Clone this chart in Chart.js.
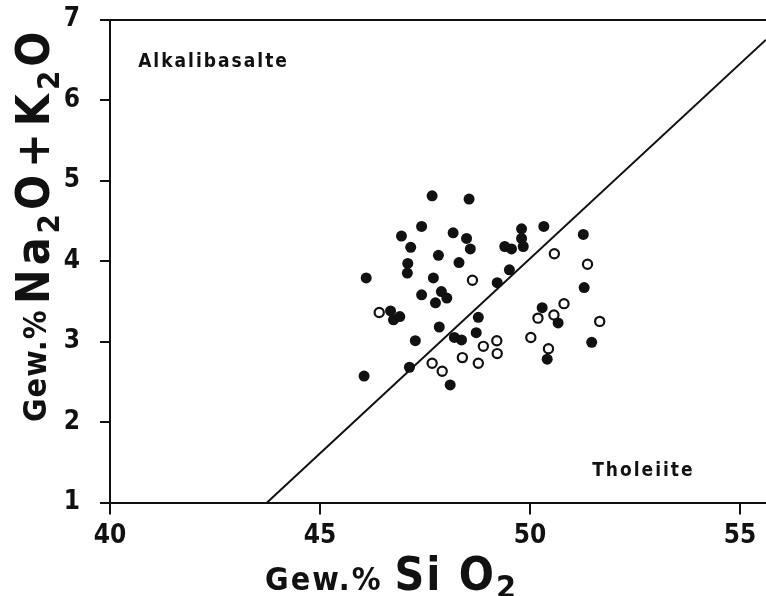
<!DOCTYPE html>
<html lang="de">
<head>
<meta charset="UTF-8">
<title>Na2O+K2O gegen SiO2</title>
<script src="https://cdn.jsdelivr.net/npm/chart.js@4.4.1/dist/chart.umd.min.js"></script>
<style>
  html, body { margin: 0; padding: 0; background: #fff; }
  #wrap { width: 766px; height: 596px; position: relative; }
</style>
</head>
<body>
<div id="wrap"><canvas id="tas"></canvas></div>
<script>
// Achsen
const xTicks = [40, 45, 50, 55];
const yTicks = [1, 2, 3, 4, 5, 6, 7];
const xRange = [40, 55.62];
const yRange = [1, 7];

// gefuellte Kreise (Gew.% SiO2 / Gew.% Na2O+K2O)
const filledSiO2 = [47.67, 48.55, 47.42, 46.94, 48.17, 48.49, 47.16, 48.58, 47.82, 48.31,
                    47.09, 47.08, 46.10, 47.70, 49.80, 49.80, 50.33, 49.40, 49.56, 49.84,
                    51.27, 49.51, 49.22, 51.29, 47.42, 47.89, 48.02, 47.75, 46.68, 46.90,
                    46.75, 47.84, 48.77, 48.72, 47.27, 48.20, 48.37, 47.13, 46.05, 48.10,
                    50.29, 50.67, 50.41, 51.47];
const filledAlk  = [4.81, 4.77, 4.43, 4.31, 4.35, 4.28, 4.17, 4.15, 4.07, 3.98,
                    3.97, 3.85, 3.79, 3.79, 4.40, 4.28, 4.43, 4.18, 4.15, 4.18,
                    4.33, 3.89, 3.73, 3.67, 3.58, 3.62, 3.54, 3.48, 3.38, 3.31,
                    3.27, 3.18, 3.30, 3.11, 3.01, 3.05, 3.02, 2.68, 2.57, 2.46,
                    3.42, 3.23, 2.78, 2.99];

// offene Kreise
const openSiO2 = [48.63, 46.41, 48.89, 49.21, 49.22, 48.39, 48.77, 47.67, 47.91,
                  50.58, 51.37, 50.81, 50.19, 50.57, 50.02, 50.44, 51.66];
const openAlk  = [3.76, 3.36, 2.94, 3.01, 2.85, 2.80, 2.73, 2.73, 2.63,
                  4.09, 3.96, 3.47, 3.29, 3.33, 3.05, 2.91, 3.25];

// Trennlinie Alkalibasalt / Tholeiit
const lineSiO2 = [43.74, 55.62];
const lineAlk  = [1, 6.75];

const INK = '#111';
const FONT = "'DejaVu Sans Condensed', 'Liberation Sans', sans-serif";

const pts = (xs, ys) => xs.map((v, i) => ({ x: v, y: ys[i] }));

// Text mit Tiefstellungen, optional gedreht
function richText(ctx, x, y, angle, parts, spacing) {
  ctx.save();
  ctx.translate(x, y);
  ctx.rotate(angle);
  ctx.fillStyle = INK;
  ctx.textBaseline = 'alphabetic';
  ctx.textAlign = 'left';
  ctx.letterSpacing = spacing + 'px';
  let cx = 0;
  for (const p of parts) {
    ctx.font = 'bold ' + p.size + 'px ' + FONT;
    ctx.fillText(p.t, cx, p.dy || 0);
    cx += ctx.measureText(p.t).width + (p.gap || 0);
  }
  ctx.restore();
}

const labels = {
  id: 'labels',
  afterDraw(chart) {
    const { ctx, scales: { x, y } } = chart;
    richText(ctx, x.getPixelForValue(40.67), y.getPixelForValue(6.41), 0,
      [{ t: 'Alkalibasalte', size: 19 }], 2);
    richText(ctx, x.getPixelForValue(51.48), y.getPixelForValue(1.33), 0,
      [{ t: 'Tholeiite', size: 19 }], 2);

    // x-Achsentitel
    richText(ctx, 265, 590, 0, [
      { t: 'Gew.%', size: 32, gap: 12 },
      { t: 'Si O', size: 46 },
      { t: '2', size: 32, dy: 8 }
    ], 2);

    // y-Achsentitel
    richText(ctx, 46, 422, -Math.PI / 2, [{ t: 'Gew.%', size: 32 }], 1);
    richText(ctx, 49, 304, -Math.PI / 2, [
      { t: 'Na', size: 46 },
      { t: '2', size: 31, dy: 10 },
      { t: 'O', size: 46, gap: 3 },
      { t: '+', size: 46, gap: 3 },
      { t: 'K', size: 46 },
      { t: '2', size: 31, dy: 10 },
      { t: 'O', size: 46 }
    ], 4);
  }
};

new Chart(document.getElementById('tas'), {
  type: 'scatter',
  data: {
    datasets: [
      {
        label: 'gefuellt',
        data: pts(filledSiO2, filledAlk),
        pointRadius: 5.5,
        pointBackgroundColor: INK,
        pointBorderWidth: 0
      },
      {
        label: 'offen',
        data: pts(openSiO2, openAlk),
        pointRadius: 4.6,
        pointBackgroundColor: '#fff',
        pointBorderColor: INK,
        pointBorderWidth: 2.2
      },
      {
        label: 'Grenze',
        data: pts(lineSiO2, lineAlk),
        showLine: true,
        pointRadius: 0,
        borderColor: INK,
        borderWidth: 2
      }
    ]
  },
  options: {
    responsive: true,
    maintainAspectRatio: false,
    animation: false,
    layout: { autoPadding: false, padding: { left: 0, right: 0, top: 19.5, bottom: 0 } },
    plugins: { legend: { display: false }, tooltip: { enabled: false } },
    scales: {
      x: {
        min: xRange[0],
        max: xRange[1],
        afterBuildTicks: s => { s.ticks = xTicks.map(v => ({ value: v })); },
        afterFit: s => { s.height = 93.5; s.paddingLeft = 0; s.paddingRight = 0; },
        ticks: {
          color: INK,
          padding: 6,
          maxRotation: 0,
          autoSkip: false,
          font: { family: FONT, size: 26, weight: 'bold' }
        },
        grid: { drawOnChartArea: false, color: INK, lineWidth: 2, tickLength: 12 },
        border: { color: INK, width: 2 }
      },
      y: {
        min: yRange[0],
        max: yRange[1],
        afterBuildTicks: s => { s.ticks = yTicks.map(v => ({ value: v })); },
        afterFit: s => { s.width = 110; s.paddingTop = 0; s.paddingBottom = 0; },
        ticks: {
          color: INK,
          padding: 20,
          font: { family: FONT, size: 26, weight: 'bold' }
        },
        grid: {
          drawOnChartArea: true,
          color: c => (c.tick && c.tick.value === 7 ? INK : 'rgba(0,0,0,0)'),
          tickColor: INK,
          lineWidth: 2,
          tickLength: 10
        },
        border: { color: INK, width: 2 }
      }
    }
  },
  plugins: [labels]
});
</script>
</body>
</html>
